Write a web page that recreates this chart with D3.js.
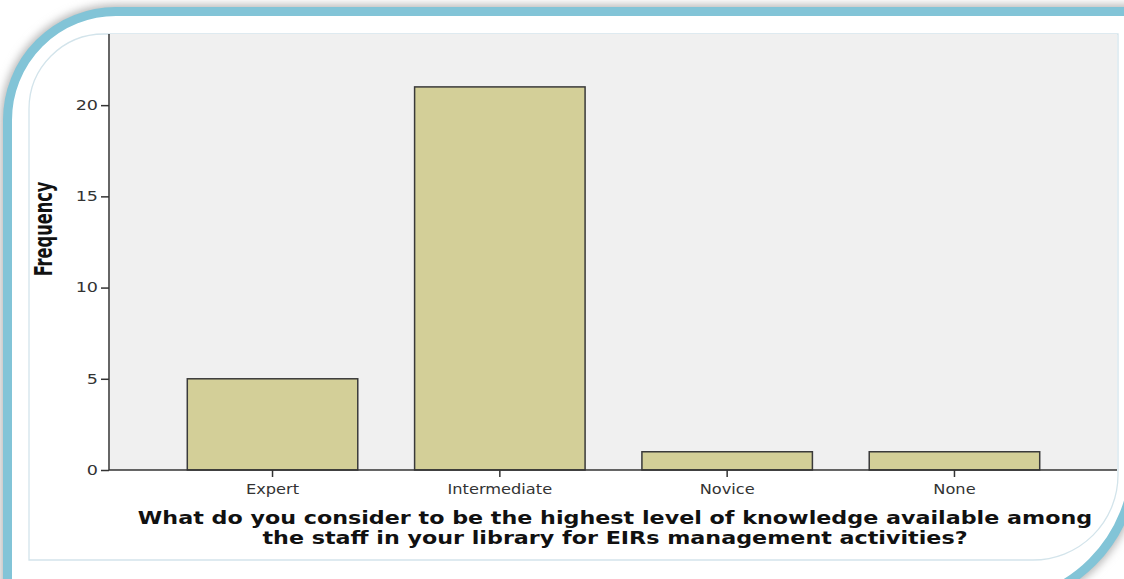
<!DOCTYPE html>
<html>
<head>
<meta charset="utf-8">
<script src="https://cdn.jsdelivr.net/npm/d3@7"></script>
<style>
  body { margin: 0; background: #fff; }
  svg { display: block; }
</style>
</head>
<body>
<svg id="chart"></svg>
<script>
// data
const categories = ["Expert", "Intermediate", "Novice", "None"];
const frequencies = [5, 21, 1, 1];
const yTicks = [0, 5, 10, 15, 20];
const yLabel = "Frequency";
const titleLines = [
	"What do you consider to be the highest level of knowledge available among",
	"the staff in your library for EIRs management activities?"
];

const width = 1124;
const height = 579;

const svg = d3.select("#chart")
	.attr("width", width)
	.attr("height", height);

const defs = svg.append("defs");
defs.append("filter")
	.attr("id", "blur")
	.attr("x", "-10%").attr("y", "-10%")
	.attr("width", "120%").attr("height", "120%")
	.append("feGaussianBlur")
	.attr("stdDeviation", 4);

// outer rounded frame
const outer = "M7.5,700 V120 A108.5,108.5 0 0 1 116,11.5 H1134.5 V460 A144.5,144.5 0 0 1 990,604.5 H7.5 Z";
svg.append("path")
	.attr("d", outer)
	.attr("fill", "none")
	.attr("stroke", "#b8b8b8")
	.attr("stroke-width", 14)
	.attr("filter", "url(#blur)");
svg.append("path")
	.attr("d", outer)
	.attr("fill", "#fff")
	.attr("stroke", "#82c4d7")
	.attr("stroke-width", 9);

// inner panel
svg.append("path")
	.attr("d", "M29,560 V109 A75,75 0 0 1 104,34 H1118 V475 A85,85 0 0 1 1033,560 Z")
	.attr("fill", "#fff")
	.attr("stroke", "#d3e4eb")
	.attr("stroke-width", 1.3);

const plot = { left: 110, right: 1117, top: 34, bottom: 470 };

const x = d3.scaleBand()
	.domain(categories)
	.range([plot.left, plot.right])
	.paddingInner(0.25)
	.paddingOuter(0.34);

const y = d3.scaleLinear()
	.domain([0, 23.9])
	.range([plot.bottom, plot.top]);

svg.append("rect")
	.attr("x", plot.left)
	.attr("y", plot.top)
	.attr("width", plot.right - plot.left)
	.attr("height", plot.bottom - plot.top)
	.attr("fill", "#f0f0f0");

// the original picture is stretched sideways, so its text is too
function stretchText(sel, k) {
	sel.each(function() {
		const len = this.getComputedTextLength();
		d3.select(this)
			.attr("textLength", len * k)
			.attr("lengthAdjust", "spacingAndGlyphs");
	});
}

// bars
svg.append("g")
	.selectAll("rect")
	.data(frequencies)
	.join("rect")
		.attr("x", (d, i) => x(categories[i]))
		.attr("y", d => y(d))
		.attr("width", x.bandwidth())
		.attr("height", d => y(0) - y(d))
		.attr("fill", "#d3cf98")
		.attr("stroke", "#3a3a3a")
		.attr("stroke-width", 1.5);

// y axis
const yAxis = svg.append("g")
	.attr("transform", "translate(" + (plot.left - 1) + ",0)")
	.call(d3.axisLeft(y).tickValues(yTicks).tickSize(8).tickPadding(3));
yAxis.select(".domain")
	.attr("d", "M0," + plot.top + "V" + plot.bottom)
	.attr("stroke", "#333")
	.attr("stroke-width", 1.5);
yAxis.selectAll(".tick line").attr("stroke", "#333").attr("stroke-width", 1.5);
yAxis.selectAll(".tick text")
	.attr("fill", "#333")
	.style("font-family", "'DejaVu Sans', Verdana, sans-serif")
	.style("font-size", "13.5px")
	.call(stretchText, 1.3);

// x axis
const xAxis = svg.append("g")
	.attr("transform", "translate(0," + plot.bottom + ")")
	.call(d3.axisBottom(x).tickSize(7).tickPadding(7));
xAxis.select(".domain")
	.attr("d", "M" + (plot.left - 1) + ",0H" + plot.right)
	.attr("stroke", "#333")
	.attr("stroke-width", 1.5);
xAxis.selectAll(".tick line").attr("stroke", "#333").attr("stroke-width", 1.5);
xAxis.selectAll(".tick text")
	.attr("fill", "#333")
	.style("font-family", "'DejaVu Sans', Verdana, sans-serif")
	.style("font-size", "13.5px")
	.call(stretchText, 1.2);

// y label
svg.append("text")
	.attr("transform", "translate(52,229) scale(1.4,1) rotate(-90)")
	.attr("text-anchor", "middle")
	.style("font-family", "'Liberation Sans Narrow', 'Arial Narrow', 'DejaVu Sans Condensed', sans-serif")
	.style("font-weight", "bold")
	.style("font-size", "18px")
	.attr("fill", "#111")
	.text(yLabel);

// title under the axis
svg.append("g")
	.selectAll("text")
	.data(titleLines)
	.join("text")
		.attr("x", 615)
		.attr("y", (d, i) => 524 + i * 20)
		.attr("text-anchor", "middle")
		.style("font-family", "'DejaVu Sans', Verdana, sans-serif")
		.style("font-weight", "bold")
		.style("font-size", "17.5px")
		.attr("fill", "#111")
		.text(d => d)
		.call(stretchText, 1.27);
</script>
</body>
</html>
